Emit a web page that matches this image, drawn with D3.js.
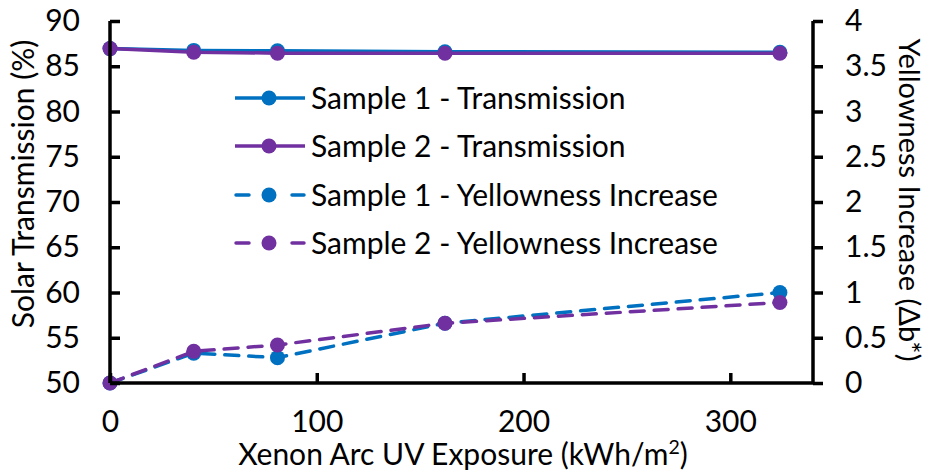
<!DOCTYPE html>
<html><head><meta charset="utf-8">
<script src="https://cdn.jsdelivr.net/npm/d3@7"></script>
<style>body{margin:0;background:#fff;} svg{display:block;} text{font-family:Lato, "Open Sans", sans-serif; fill:#000;}</style>
</head><body>
<svg id="chart" width="929" height="470"></svg>
<script>
const exposure = [0, 40.5, 81, 162, 324];
const s1Transmission = [86.95, 86.75, 86.7, 86.6, 86.55];
const s2Transmission = [86.95, 86.55, 86.45, 86.43, 86.43];
const s1Yellowness = [0, 0.33, 0.28, 0.66, 1.0];
const s2Yellowness = [0, 0.35, 0.42, 0.66, 0.89];
const xTicks = [0, 100, 200, 300];
const leftTicks = [50, 55, 60, 65, 70, 75, 80, 85, 90];
const rightTicks = [0, 0.5, 1, 1.5, 2, 2.5, 3, 3.5, 4];
const seriesNames = ["Sample 1 - Transmission", "Sample 2 - Transmission", "Sample 1 - Yellowness Increase", "Sample 2 - Yellowness Increase"];
const colors = ["#0070C0", "#7030A0"];

const svg = d3.select("#chart");
const FS = 30;
const L = 110, R = 813, T = 21, B = 383;
const x = d3.scaleLinear().domain([0, 340]).range([L, R]);
const yL = d3.scaleLinear().domain([50, 90]).range([B, T]);
const yR = d3.scaleLinear().domain([0, 4]).range([B, T]);

const series = [
  {name: seriesNames[0], vals: s1Transmission, scale: yL, color: colors[0], dash: null},
  {name: seriesNames[1], vals: s2Transmission, scale: yL, color: colors[1], dash: null},
  {name: seriesNames[2], vals: s1Yellowness, scale: yR, color: colors[0], dash: "14 10"},
  {name: seriesNames[3], vals: s2Yellowness, scale: yR, color: colors[1], dash: "14 10"}
];

const plot = svg.append("g");
series.forEach(s => {
  const pts = exposure.map((e, i) => [e, s.vals[i]]);
  const line = d3.line().x(d => x(d[0])).y(d => s.scale(d[1]));
  plot.append("path").attr("d", line(pts)).attr("fill", "none")
    .attr("stroke", s.color).attr("stroke-width", 3.5)
    .attr("stroke-dasharray", s.dash).attr("stroke-linecap", s.dash ? "round" : "butt");
  plot.selectAll(null).data(pts).enter().append("circle")
    .attr("cx", d => x(d[0])).attr("cy", d => s.scale(d[1])).attr("r", 7.5)
    .attr("fill", s.color);
});

const axX = d3.axisBottom(x).tickValues(xTicks).tickSize(-10).tickPadding(28).tickFormat(d3.format("d"));
const gx = svg.append("g").attr("transform", `translate(0,${B})`).call(axX);
const axL = d3.axisLeft(yL).tickValues(leftTicks).tickSize(-10).tickPadding(30);
const gl = svg.append("g").attr("transform", `translate(${L},0)`).call(axL);
const axR = d3.axisRight(yR).tickValues(rightTicks).tickSize(10).tickPadding(22).tickFormat(d => d3.format("~g")(d));
const gr = svg.append("g").attr("transform", `translate(${R},0)`).call(axR);
[gx, gl, gr].forEach(g => {
  g.select(".domain").attr("stroke", "#000").attr("stroke-width", 3.5);
  g.selectAll(".tick line").attr("stroke", "#000").attr("stroke-width", 3.5);
  g.selectAll(".tick text").attr("font-size", FS).attr("font-family", "Lato").attr("fill", "#000");
});
gx.select(".domain").attr("d", `M${L},0H${R}`);
gl.select(".domain").attr("d", `M0,${T}V${B}`);
gr.select(".domain").attr("d", `M0,${T}V${B}`);

const xt = svg.append("text").attr("x", 463).attr("y", 465).attr("text-anchor", "middle").attr("font-size", FS);
xt.append("tspan").text("Xenon Arc UV Exposure (kWh/m");
xt.append("tspan").attr("font-size", FS * 0.65).attr("dy", -11).text("2");
xt.append("tspan").attr("dy", 11).text(")");
svg.append("text").attr("transform", "translate(34,184) rotate(-90)").attr("text-anchor", "middle").attr("font-size", FS)
  .text("Solar Transmission (%)");
svg.append("text").attr("transform", "translate(899,200) rotate(90)").attr("text-anchor", "middle").attr("font-size", 29)
  .text("Yellowness Increase (Δb*)");

const lg = svg.append("g");
const rowY = [98, 146, 195, 243];
series.forEach((s, i) => {
  const g = lg.append("g").attr("transform", `translate(0,${rowY[i]})`);
  if (s.dash) {
    g.append("line").attr("x1", 236).attr("x2", 249).attr("y1", 0).attr("y2", 0).attr("stroke", s.color).attr("stroke-width", 3.5).attr("stroke-linecap", "round");
    g.append("line").attr("x1", 292).attr("x2", 304).attr("y1", 0).attr("y2", 0).attr("stroke", s.color).attr("stroke-width", 3.5).attr("stroke-linecap", "round");
  } else {
    g.append("line").attr("x1", 235).attr("x2", 305).attr("y1", 0).attr("y2", 0).attr("stroke", s.color).attr("stroke-width", 3.5);
  }
  g.append("circle").attr("cx", 269).attr("cy", 0).attr("r", 7.5).attr("fill", s.color);
  g.append("text").attr("x", 311).attr("y", 0).attr("dy", "0.36em").attr("font-size", FS).text(s.name);
});
</script>
</body></html>
